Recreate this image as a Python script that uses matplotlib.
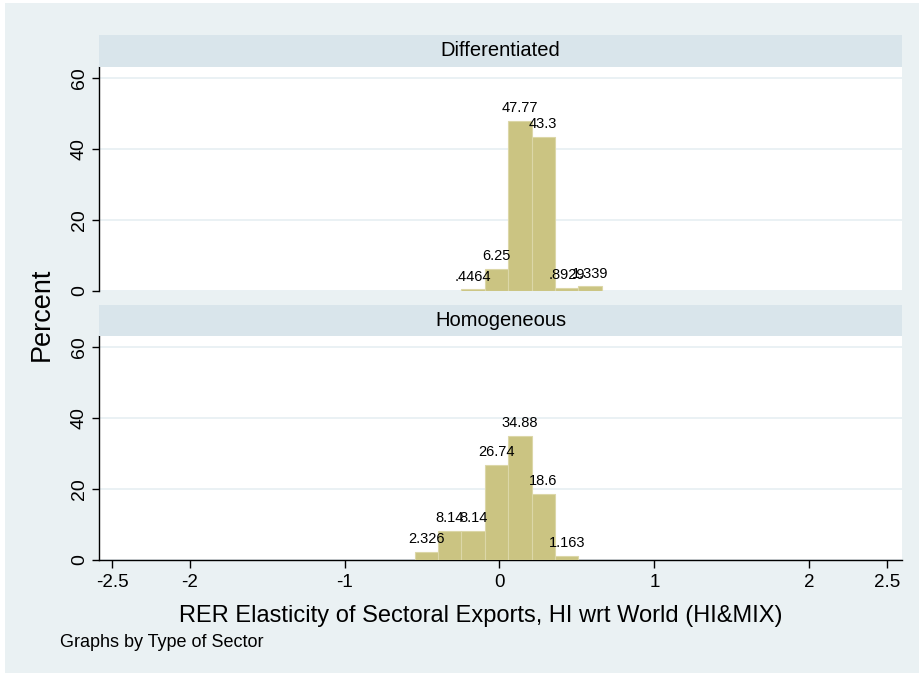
import numpy as np
import matplotlib
matplotlib.use('Agg')
import matplotlib.pyplot as plt
from matplotlib.patches import Rectangle

plt.rcParams['font.family'] = ['Liberation Sans', 'DejaVu Sans']

# Data (percent per bin)
bin_width = 0.151
diff_start = -0.246
diff_pct = [0.4464, 6.25, 47.77, 43.3, 0.8929, 1.339]
diff_lbl = ['.4464', '6.25', '47.77', '43.3', '.8929', '1.339']
homo_start = -0.548
homo_pct = [2.326, 8.14, 8.14, 26.74, 34.88, 18.6, 1.163]
homo_lbl = ['2.326', '8.14', '8.14', '26.74', '34.88', '18.6', '1.163']

panels = ['Differentiated', 'Homogeneous']
xticks = [-2.5, -2, -1, 0, 1, 2, 2.5]
xtick_lbl = ['-2.5', '-2', '-1', '0', '1', '2', '2.5']
yticks = [0, 20, 40, 60]

bg = '#eaf1f3'
strip = '#d9e5eb'
grid = '#e6eff2'
barc = '#cbc482'
edgec = '#dcd7a8'

fig = plt.figure(figsize=(9.2, 6.76), dpi=100, facecolor='white')
fig.patches.append(Rectangle((5/920, 3/676), 915/920, 670/676, transform=fig.transFigure,
                             facecolor=bg, edgecolor='none', zorder=-10))

left = 99/920
width = 803/920
ax_pos = [(left, 1-291/676, width, 224/676), (left, 1-560/676, width, 224/676)]
strip_pos = [(left, 1-67/676, width, 32/676), (left, 1-336/676, width, 31/676)]

data = [(diff_start, diff_pct, diff_lbl), (homo_start, homo_pct, homo_lbl)]

for i in range(2):
    ax = fig.add_axes(ax_pos[i])
    start, pct, lbl = data[i]
    lefts = start + bin_width * np.arange(len(pct))
    ax.bar(lefts, pct, width=bin_width, align='edge', color=barc, edgecolor=edgec,
           linewidth=0.8, zorder=3)
    for x0, h, t in zip(lefts, pct, lbl):
        ax.text(x0 + bin_width/2, h + 1.6, t, ha='center', va='bottom', fontsize=10.5, zorder=4)
    ax.set_xlim(-2.584, 2.597)
    ax.set_ylim(0, 63)
    ax.set_yticks(yticks)
    ax.set_yticklabels([str(v) for v in yticks], rotation=90, va='center', fontsize=14)
    ax.yaxis.grid(True, color=grid, linewidth=1.2, zorder=0)
    ax.set_axisbelow(True)
    for s in ['top', 'right']:
        ax.spines[s].set_visible(False)
    ax.spines['left'].set_linewidth(1.0)
    ax.tick_params(axis='y', length=5, width=1, pad=3)
    if i == 0:
        ax.spines['bottom'].set_visible(False)
        ax.set_xticks([])
    else:
        ax.set_xticks(xticks)
        ax.set_xticklabels(xtick_lbl, fontsize=13.5)
        ax.tick_params(axis='x', length=6, width=1, pad=4)
        ax.spines['bottom'].set_linewidth(1.0)

    sax = fig.add_axes(strip_pos[i])
    sax.set_facecolor(strip)
    sax.set_xticks([])
    sax.set_yticks([])
    for s in sax.spines.values():
        s.set_visible(False)
    sax.text(0.5, 0.5, panels[i], ha='center', va='center', fontsize=14.5, transform=sax.transAxes)

fig.text(481/920, 1-622/676, 'RER Elasticity of Sectoral Exports, HI wrt World (HI&MIX)',
         ha='center', va='baseline', fontsize=17)
fig.text(42/920, 1-314/676, 'Percent', rotation=90, ha='center', va='center', fontsize=19.5)
fig.text(60/920, 1-647/676, 'Graphs by Type of Sector', ha='left', va='baseline', fontsize=13)

fig.savefig('out.png', dpi=100, facecolor=fig.get_facecolor())
